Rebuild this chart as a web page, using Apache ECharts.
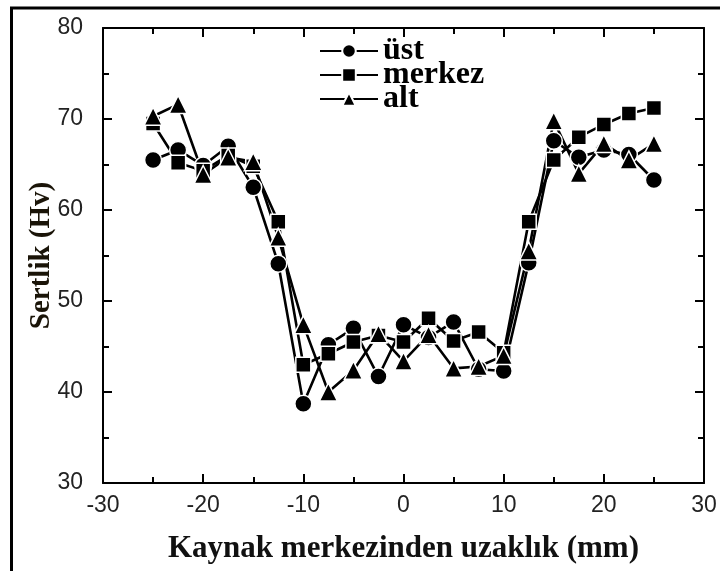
<!DOCTYPE html>
<html>
<head>
<meta charset="utf-8">
<script src="https://cdn.jsdelivr.net/npm/echarts@6/dist/echarts.min.js"></script>
<style>html,body{margin:0;padding:0;background:#fff}#c{width:720px;height:571px}</style>
</head>
<body>
<div id="c"></div>
<script>
const distances = [-25,-22.5,-20,-17.5,-15,-12.5,-10,-7.5,-5,-2.5,0,2.5,5,7.5,10,12.5,15,17.5,20,22.5,25];
const ust    = [65.5,66.6,64.9,67.0,62.5,54.1,38.7,45.2,47.0,41.7,47.4,46.0,47.7,42.5,42.3,54.2,67.6,65.8,66.6,66.1,63.3];
const merkez = [69.5,65.2,64.3,66.0,64.8,58.7,43.0,44.2,45.5,46.2,45.5,48.1,45.6,46.6,44.3,58.7,65.5,68.0,69.4,70.6,71.2];
const alt    = [70.3,71.6,63.9,65.8,65.3,57.0,47.4,40.0,42.4,46.4,43.4,46.3,42.6,42.8,44.0,55.5,69.8,64.0,67.3,65.5,67.3];
const seriesNames = ['üst','merkez','alt'];
const xTicks = [-30,-20,-10,0,10,20,30];
const yTicks = [30,40,50,60,70,80];

const chart = echarts.init(document.getElementById('c'));
const mk = (name, vals, sym, size) => ({
  name, type: 'line', data: distances.map((d,i)=>[d, vals[i]]),
  symbol: sym, symbolSize: size, showSymbol: true,
  lineStyle: {color:'#000', width: 2.6},
  itemStyle: {color:'#000', borderColor:'#fff', borderWidth: 1.5},
  z: 3
});
const labelFont = 'Liberation Sans, Arial, sans-serif';
const serif = 'Liberation Serif, Times New Roman, serif';
const boxAxis = (pos, interval, min, max) => ({
  type:'value', min, max, interval, position:pos,
  axisLine:{onZero:false, lineStyle:{color:'#000', width:2}},
  axisTick:{inside:true, length:9, lineStyle:{color:'#000', width:2}},
  minorTick:{show:true, splitNumber:2, length:6, lineStyle:{color:'#000', width:2}},
  splitLine:{show:false}, axisLabel:{show:false}
});
chart.setOption({
  animation: false,
  backgroundColor: '#fff',
  grid: {left:103, right:16, top:28, bottom:88},
  legend: {
    orient:'vertical', left:314, top:30, itemWidth:58, itemHeight:17, itemGap:-8,
    data: seriesNames,
    textStyle:{fontFamily:serif, fontWeight:'bold', fontSize:32, color:'#000', lineHeight:25}
  },
  xAxis: [{
    type:'value', min:-30, max:30, interval:10, position:'bottom',
    name:'Kaynak merkezinden uzaklık (mm)', nameLocation:'middle', nameGap:50, nameMoveOverlap:false,
    nameTextStyle:{fontFamily:serif, fontWeight:'bold', fontSize:31, color:'#111'},
    axisLine:{onZero:false, lineStyle:{color:'#000', width:2}},
    axisTick:{inside:true, length:9, lineStyle:{color:'#000', width:2}},
    minorTick:{show:true, splitNumber:2, length:6, lineStyle:{color:'#000', width:2}},
    splitLine:{show:false},
    axisLabel:{margin:11, fontSize:23, color:'#222', fontFamily:labelFont, formatter:v=>xTicks.includes(v)?String(v):''}
  }, boxAxis('top', 10, -30, 30)],
  yAxis: [{
    type:'value', min:30, max:80, interval:10, position:'left',
    name:'Sertlik (Hv)', nameLocation:'middle', nameGap:47, nameRotate:90, nameMoveOverlap:false,
    nameTextStyle:{fontFamily:serif, fontWeight:'bold', fontSize:29, color:'#1a1408'},
    axisLine:{onZero:false, lineStyle:{color:'#000', width:2}},
    axisTick:{inside:true, length:9, lineStyle:{color:'#000', width:2}},
    minorTick:{show:true, splitNumber:2, length:6, lineStyle:{color:'#000', width:2}},
    splitLine:{show:false},
    axisLabel:{margin:20, fontSize:23, color:'#222', fontFamily:labelFont, formatter:v=>yTicks.includes(v)?String(v):''}
  }, boxAxis('right', 10, 30, 80)],
  graphic: [
    {type:'line', shape:{x1:10, y1:8, x2:720, y2:8}, style:{stroke:'#000', lineWidth:3}},
    {type:'line', shape:{x1:11.5, y1:7, x2:11.5, y2:571}, style:{stroke:'#000', lineWidth:3}}
  ],
  series: [
    mk('üst', ust, 'circle', 17),
    mk('merkez', merkez, 'rect', 15),
    mk('alt', alt, 'triangle', 18)
  ]
});
</script>
</body>
</html>
